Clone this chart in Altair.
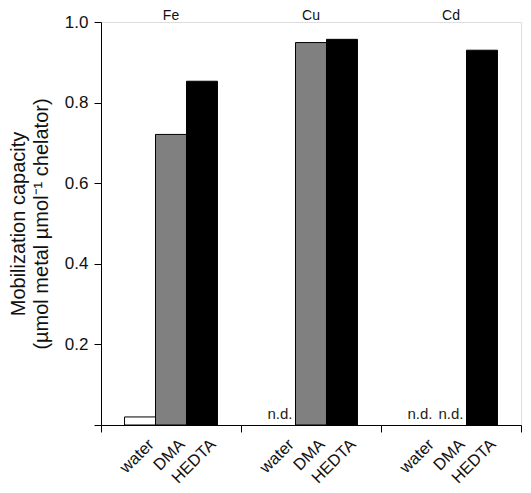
import altair as alt
import pandas as pd

metals = ["Fe", "Cu", "Cd"]
chelators = ["water", "DMA", "HEDTA"]
fe_values = [0.02, 0.721, 0.853]
cu_values = [None, 0.949, 0.957]
cd_values = [None, None, 0.930]
y_ticks = [0.0, 0.2, 0.4, 0.6, 0.8, 1.0]
bar_fills = ["white", "#808080", "black"]

rows = []
for m, vals in zip(metals, [fe_values, cu_values, cd_values]):
    for c, v in zip(chelators, vals):
        rows.append({"metal": m, "chelator": c, "value": v,
                     "nd": "n.d." if v is None else ""})
df = pd.DataFrame(rows)

FONT = "Liberation Sans"
W, H = 420, 403

xenc = alt.X("metal:N", sort=metals,
             scale=alt.Scale(paddingInner=0, paddingOuter=0),
             axis=alt.Axis(labels=False, title=None, tickBand="extent",
                           tickSize=7, domainColor="black", tickColor="black",
                           domainWidth=1, tickWidth=1))
xoff = alt.XOffset("chelator:N", sort=chelators,
                   scale=alt.Scale(paddingInner=0, paddingOuter=0.76))
yenc = alt.Y("value:Q",
             scale=alt.Scale(domain=[0, 1], nice=False, zero=True),
             axis=alt.Axis(values=y_ticks, grid=False, tickSize=7,
                           labelExpr="datum.value == 0 ? '' : format(datum.value, '.1f')",
                           labelFontSize=17, labelColor="#111", labelPadding=6,
                           domainColor="black", tickColor="black",
                           title=["Mobilization capacity",
                                  "(µmol metal  µmol⁻¹ chelator)"],
                           titleFontSize=20, titleFontWeight="normal",
                           titleColor="#111", titlePadding=13, titleLineHeight=23))

base = alt.Chart(df).encode(x=xenc, xOffset=xoff)

bars = base.mark_bar(stroke="black", strokeWidth=1).encode(
    y=yenc,
    fill=alt.Fill("chelator:N", sort=chelators,
                  scale=alt.Scale(domain=chelators, range=bar_fills),
                  legend=None),
).transform_filter("datum.value != null")

nd = base.transform_filter("datum.value == null").transform_calculate(
    value="0"
).mark_text(font=FONT, fontSize=15, color="#222", dy=-11, baseline="middle").encode(
    y=yenc, text="nd:N")

xlabels = base.mark_text(font=FONT, fontSize=16.5, color="#111", angle=315,
                         align="right", baseline="middle", dx=8, dy=8).encode(
    y=alt.value(H + 17), text="chelator:N")

titles = base.transform_filter("datum.chelator == 'DMA'").mark_text(
    font=FONT, fontSize=14, color="#111", baseline="alphabetic").encode(
    y=alt.value(-2), text="metal:N")

chart = alt.layer(bars, nd, xlabels, titles).properties(
    width=W, height=H,
    autosize=alt.AutoSizeParams(type="none"),
    padding={"left": 93, "top": 14, "right": 2, "bottom": 60},
).configure_view(stroke=None).configure(font=FONT)

chart.save("out.html", embed_options={"renderer": "svg", "actions": False})
